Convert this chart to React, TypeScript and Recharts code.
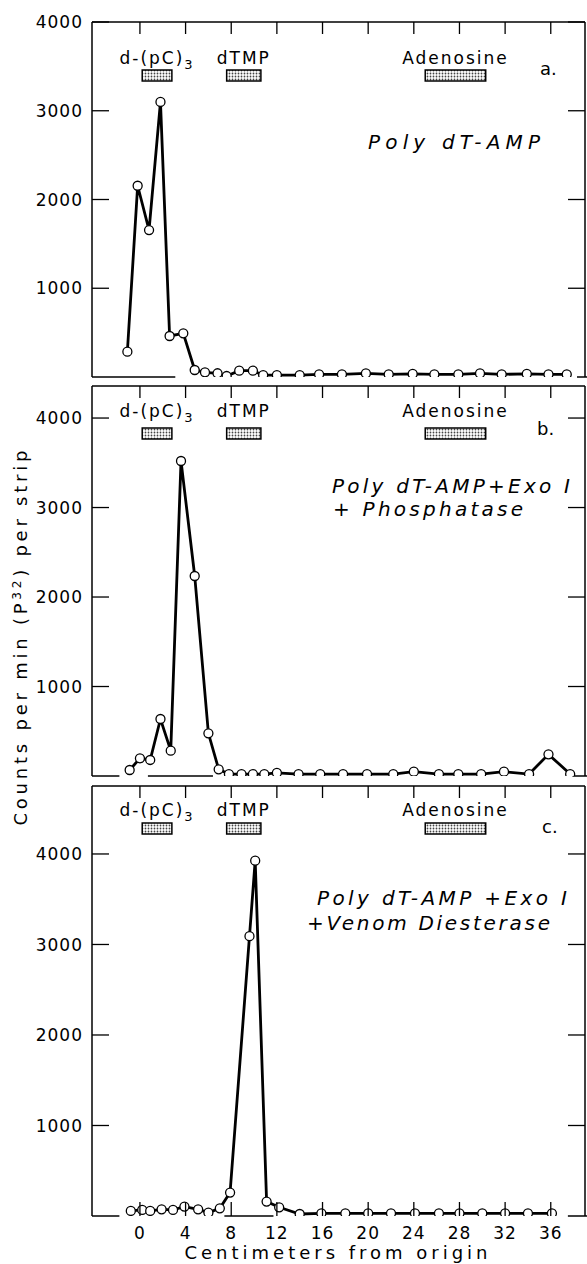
import { LineChart, Line, XAxis, YAxis, ReferenceArea, ReferenceLine } from "recharts";

const FONT = "'DejaVu Sans', sans-serif";

// x ticks (cm from origin) and y ticks (counts per min)
const cmTicks = [0, 4, 8, 12, 16, 20, 24, 28, 32, 36];
const countTicks = [1000, 2000, 3000, 4000];

// panel a: Poly dT-AMP
const posA = [-1.1, -0.2, 0.8, 1.8, 2.6, 3.8, 4.8, 5.7, 6.8, 7.6, 8.7, 9.9, 10.8, 12, 14, 15.7, 17.7, 19.8, 21.8, 23.9, 25.8, 27.9, 29.8, 31.7, 33.9, 35.8, 37.4];
const countsA = [285, 2155, 1656, 3100, 462, 492, 79, 53, 42, 11, 71, 71, 22, 22, 22, 30, 30, 40, 30, 35, 30, 30, 40, 30, 35, 30, 30];

// panel b: + Exo I + Phosphatase
const posB = [-0.9, 0, 0.9, 1.8, 2.7, 3.6, 4.8, 6, 6.9, 7.8, 8.9, 9.9, 10.9, 12, 13.9, 15.8, 17.8, 19.9, 22.2, 24, 26.2, 27.9, 29.9, 31.9, 34.1, 35.8, 37.7];
const countsB = [67, 198, 179, 637, 283, 3520, 2235, 477, 75, 22, 22, 22, 22, 35, 22, 22, 22, 22, 22, 48, 22, 22, 22, 48, 22, 242, 22];

// panel c: + Exo I + Venom Diesterase
const posC = [-0.8, 0.2, 0.9, 1.9, 2.9, 3.9, 5.1, 6, 7, 7.9, 9.6, 10.1, 11.1, 12.2, 14, 15.9, 18, 20, 22, 24.1, 26.2, 28, 30, 32, 34, 36.1];
const countsC = [56, 67, 56, 74, 67, 104, 74, 37, 85, 259, 3092, 3926, 159, 96, 22, 30, 30, 30, 30, 30, 30, 30, 30, 30, 30, 30];

// marker spots (cm)
const markerNames = ["d-(pC)3", "dTMP", "Adenosine"];
const markerFrom = [0.2, 7.6, 25];
const markerTo = [2.8, 10.6, 30.3];

const X_DOMAIN: [number, number] = [-4.2, 39];

const tickText = { fontSize: 17, fill: "#000", fontFamily: FONT, letterSpacing: 1 };
const tickStroke = { stroke: "#000", strokeWidth: 1.3 };

// inward ticks, drawn by hand so they point into the box
const leftTick = (t: any) => (
  <g>
    <line x1={t.x} x2={t.x + 17} y1={t.y} y2={t.y} {...tickStroke} />
    <text x={t.x - 9} y={t.y} dy="0.36em" textAnchor="end" {...tickText}>
      {t.payload.value}
    </text>
  </g>
);
const rightTick = (t: any) => <line x1={t.x} x2={t.x - 17} y1={t.y} y2={t.y} {...tickStroke} />;
const topTick = (t: any) => <line x1={t.x} x2={t.x} y1={t.y} y2={t.y + 12} {...tickStroke} />;
const bottomTick = (show: boolean) => (t: any) => (
  <g>
    <line x1={t.x} x2={t.x} y1={t.y} y2={t.y - 14} {...tickStroke} />
    {show && (
      <text x={t.x} y={t.y + 11} dy="0.71em" textAnchor="middle" {...tickText}>
        {t.payload.value}
      </text>
    )}
  </g>
);

function markerShape(name: string, textDy: number, barDy: number) {
  return (p: any) => {
    const cx = p.x + p.width / 2;
    return (
      <g>
        <text x={cx} y={p.y + textDy} textAnchor="middle" fontFamily={FONT} fontSize={17} letterSpacing={2} fill="#000">
          {name === "d-(pC)3" ? (
            <>
              <tspan>d-(pC)</tspan>
              <tspan dy={5} fontSize={13}>3</tspan>
            </>
          ) : (
            name
          )}
        </text>
        <rect x={p.x} y={p.y + barDy} width={p.width} height={11} fill="url(#stipple)" stroke="#000" strokeWidth={1.5} />
      </g>
    );
  };
}

type PanelProps = {
  pos: number[];
  counts: number[];
  yMax: number;
  top: number;
  height: number;
  mTop: number;
  mBottom: number;
  xAxisHeight: number;
  showCm: boolean;
  textDy: number;
  barDy: number;
  baseline: [number, number][];
};

function Panel(p: PanelProps) {
  const data = p.pos.map((x, i) => ({ x, v: p.counts[i] }));
  return (
    <div style={{ position: "absolute", left: 0, top: p.top }}>
      <LineChart width={587} height={p.height} data={data} margin={{ top: p.mTop, right: 1, bottom: p.mBottom, left: 0 }}>
        <XAxis
          type="number"
          dataKey="x"
          domain={X_DOMAIN}
          ticks={cmTicks}
          allowDataOverflow
          axisLine={false}
          tickLine={false}
          tickSize={0}
          tickMargin={0}
          height={p.xAxisHeight}
          tick={bottomTick(p.showCm)}
        />
        <XAxis
          xAxisId="top"
          orientation="top"
          type="number"
          dataKey="x"
          domain={X_DOMAIN}
          ticks={cmTicks}
          allowDataOverflow
          height={1}
          tickSize={0}
          tickMargin={0}
          axisLine={{ stroke: "#000", strokeWidth: 1.5 }}
          tickLine={false}
          tick={topTick}
        />
        <YAxis
          type="number"
          domain={[0, p.yMax]}
          ticks={countTicks}
          allowDataOverflow
          width={92}
          tickSize={0}
          tickMargin={0}
          axisLine={{ stroke: "#000", strokeWidth: 1.5 }}
          tickLine={false}
          tick={leftTick}
        />
        <YAxis
          yAxisId="right"
          orientation="right"
          type="number"
          domain={[0, p.yMax]}
          ticks={countTicks}
          allowDataOverflow
          width={1}
          tickSize={0}
          tickMargin={0}
          axisLine={{ stroke: "#000", strokeWidth: 1.5 }}
          tickLine={false}
          tick={rightTick}
        />
        {markerNames.map((name, i) => (
          <ReferenceArea
            key={name}
            x1={markerFrom[i]}
            x2={markerTo[i]}
            ifOverflow="visible"
            shape={markerShape(name, p.textDy, p.barDy)}
          />
        ))}
        {p.baseline.map(([a, b], i) => (
          <ReferenceLine
            key={i}
            segment={[{ x: a, y: 0 }, { x: b, y: 0 }]}
            stroke="#000"
            strokeWidth={1.5}
            ifOverflow="visible"
          />
        ))}
        <Line
          dataKey="v"
          type="linear"
          stroke="#000"
          strokeWidth={2.8}
          dot={{ r: 4.5, fill: "#fff", stroke: "#000", strokeWidth: 1.3 }}
          isAnimationActive={false}
        />
      </LineChart>
    </div>
  );
}

const italic = { fontFamily: FONT, fontStyle: "italic" as const, fontSize: 20, fill: "#000" };
const plain = { fontFamily: FONT, fontSize: 18, fill: "#000" };

export default function App() {
  return (
    <div style={{ position: "absolute", left: 0, top: 0, width: 587, height: 1264, background: "#fff" }}>
      <svg width={0} height={0} style={{ position: "absolute" }}>
        <defs>
          <pattern id="stipple" width={3} height={3} patternUnits="userSpaceOnUse">
            <rect width={3} height={3} fill="#fff" />
            <circle cx={1.5} cy={1.5} r={0.9} fill="#444" />
          </pattern>
        </defs>
      </svg>
      <Panel pos={posA} counts={countsA} yMax={4000} top={0} height={380} mTop={21} mBottom={3} xAxisHeight={0} showCm={false} textDy={42} barDy={48} baseline={[[-4.2, 3.1], [38.3, 39.2]]} />
      <Panel pos={posB} counts={countsB} yMax={4358} top={380} height={400} mTop={5} mBottom={4} xAxisHeight={0} showCm={false} textDy={31} barDy={42} baseline={[[-4.2, -1.8], [0.7, 6.4], [37.9, 39.2]]} />
      <Panel pos={posC} counts={countsC} yMax={4751} top={770} height={494} mTop={15} mBottom={0} xAxisHeight={48} showCm={true} textDy={30} barDy={37} baseline={[[-4.2, -1.8], [7.4, 11.7], [37.5, 39.2]]} />
      <svg width={587} height={1264} style={{ position: "absolute", left: 0, top: 0, pointerEvents: "none" }}>
        <text x={368} y={149} {...italic} textLength={172} lengthAdjust="spacing">Poly dT-AMP</text>
        <text x={540} y={75} {...plain}>a.</text>

        <text x={332} y={493} {...italic} textLength={238} lengthAdjust="spacing">Poly dT-AMP+Exo I</text>
        <text x={333} y={516} {...italic} textLength={190} lengthAdjust="spacing">+ Phosphatase</text>
        <text x={537} y={435} {...plain}>b.</text>

        <text x={317} y={905} {...italic} textLength={250} lengthAdjust="spacing">Poly dT-AMP +Exo I</text>
        <text x={307} y={930} {...italic} textLength={243} lengthAdjust="spacing">+Venom Diesterase</text>
        <text x={542} y={833} {...plain}>c.</text>

        <text x={336} y={1259} textAnchor="middle" {...plain} textLength={303} lengthAdjust="spacing">Centimeters from origin</text>
        <text
          x={0}
          y={0}
          transform="translate(27 638) rotate(-90)"
          textAnchor="middle"
          {...plain}
          textLength={375}
          lengthAdjust="spacing"
        >
          Counts per min (P<tspan dy={-6} fontSize={12}>32</tspan><tspan dy={6}>) per strip</tspan>
        </text>
      </svg>
    </div>
  );
}
